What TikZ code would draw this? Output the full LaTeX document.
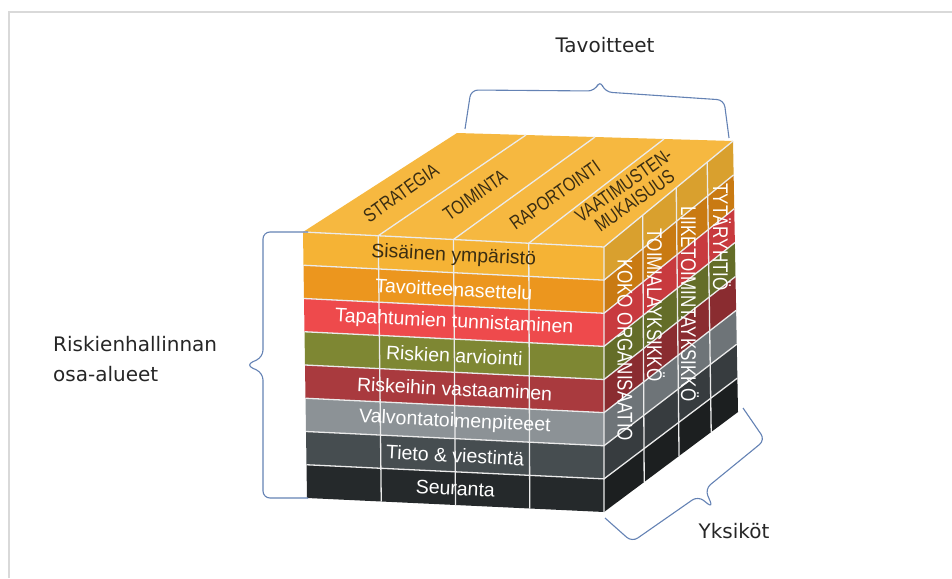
\documentclass[tikz,border=0pt]{standalone}
\usepackage{fontspec,graphicx}
\setmainfont{Liberation Sans}
\newfontfamily\labelfont{DejaVu Sans}
\usetikzlibrary{calc}

\definecolor{rowA}{HTML}{F5B335}
\definecolor{rowB}{HTML}{EC961E}
\definecolor{rowC}{HTML}{EE4A4C}
\definecolor{rowD}{HTML}{7E8733}
\definecolor{rowE}{HTML}{A93A3E}
\definecolor{rowF}{HTML}{8C9296}
\definecolor{rowG}{HTML}{464D50}
\definecolor{rowH}{HTML}{25292B}
\definecolor{sideA}{HTML}{D9A02E}
\definecolor{sideB}{HTML}{C97A12}
\definecolor{sideC}{HTML}{C83A3E}
\definecolor{sideD}{HTML}{646D28}
\definecolor{sideE}{HTML}{8A2C30}
\definecolor{sideF}{HTML}{6E7478}
\definecolor{sideG}{HTML}{373C3F}
\definecolor{sideH}{HTML}{1C1F20}
\definecolor{topface}{HTML}{F6B840}
\definecolor{textdark}{HTML}{3A2D12}
\definecolor{braceblue}{HTML}{6482B4}

\newcommand\tallcaps[1]{\scalebox{1}[1.25]{#1}}

\begin{document}
\begin{tikzpicture}[x=1pt,y=-1pt,
  gridline/.style={draw=white!92!black,line width=1.3pt},
  bracket/.style={draw=braceblue,line width=1.1pt,rounded corners=7pt},
  rowtext/.style={font=\fontsize{19.5}{22}\selectfont,rotate=-2.8,inner sep=0pt},
  sidetext/.style={font=\fontsize{17}{20}\selectfont,white,rotate=-90,inner sep=0pt},
  toptext/.style={font=\fontsize{15.5}{19}\selectfont,textdark,rotate=35,inner sep=0pt,align=center},
  outertext/.style={font=\labelfont\fontsize{20}{30}\selectfont,black!85,inner sep=0pt}]
%\draw[help lines] (0,0) grid[step=50] (952,578);
\useasboundingbox (0,0) rectangle (952,578);
\draw[gray!30,line width=2pt] (9,578) -- (9,12) -- (952,12);

% corners of the cube
\coordinate (F1) at (303,232);
\coordinate (F2) at (604,247);
\coordinate (F3) at (604,512);
\coordinate (F4) at (307,498);
\coordinate (T1) at (457,133);
\coordinate (T2) at (733,141);
\coordinate (R3) at (738,412);

\foreach \i/\fc/\rc in {0/rowA/sideA,1/rowB/sideB,2/rowC/sideC,3/rowD/sideD,
                        4/rowE/sideE,5/rowF/sideF,6/rowG/sideG,7/rowH/sideH}{
  \fill[\fc] ($(F1)!{\i/8}!(F4)$) -- ($(F2)!{\i/8}!(F3)$)
     -- ($(F2)!{(\i+1)/8}!(F3)$) -- ($(F1)!{(\i+1)/8}!(F4)$) -- cycle;
  \fill[\rc] ($(F2)!{\i/8}!(F3)$) -- ($(T2)!{\i/8}!(R3)$)
     -- ($(T2)!{(\i+1)/8}!(R3)$) -- ($(F2)!{(\i+1)/8}!(F3)$) -- cycle;
}
\fill[topface] (F1) -- (F2) -- (T2) -- (T1) -- cycle;

\foreach \k in {1,...,7}
  \draw[gridline] ($(F1)!{\k/8}!(F4)$) -- ($(F2)!{\k/8}!(F3)$) -- ($(T2)!{\k/8}!(R3)$);
\foreach \s in {0.25,0.5,0.75}
  \draw[gridline] ($(F4)!\s!(F3)$) -- ($(F1)!\s!(F2)$) -- ($(T1)!\s!(T2)$);
\foreach \s in {0.3,0.56,0.8}
  \draw[gridline] ($(F3)!\s!(R3)$) -- ($(F2)!\s!(T2)$);
\draw[gridline] (F1) -- (F2) -- (T2) (F2) -- (F3);

\foreach \i/\txt/\tc in {1/Sisäinen ympäristö/textdark,2/Tavoitteenasettelu/white,
    3/Tapahtumien tunnistaminen/white,4/Riskien arviointi/white,
    5/Riskeihin vastaaminen/white,6/Valvontatoimenpiteeet/white,
    7/Tieto \& viestintä/white,8/Seuranta/white}
  \node[rowtext,text=\tc] (row\i) at ($($(F1)!0.5!(F2)$)!{(\i-0.5)/8}!($(F4)!0.5!(F3)$)$) {\txt};

\node[sidetext] (koko) at (625,350) {\tallcaps{KOKO ORGANISAATIO}};
\node[sidetext] (toimiala) at (656,305) {\tallcaps{TOIMIALAYKSIKKÖ}};
\node[sidetext] (liiketoiminta) at (690,304) {\tallcaps{LIIKETOIMINTAYKSIKKÖ}};
\node[sidetext] (tytar) at (722,237) {\tallcaps{TYTÄRYHTIÖ}};

\node[toptext] (strategia) at (401,193) {\tallcaps{STRATEGIA}};
\node[toptext] (toiminta) at (475,195) {\tallcaps{TOIMINTA}};
\node[toptext] (raportointi) at (555,195) {\tallcaps{RAPORTOINTI}};
\node[toptext] (vaatimus) at (629,193) {\tallcaps{VAATIMUSTEN-}\\\tallcaps{MUKAISUUS}};

\node[outertext] (tavoitteet) at (605,45) {Tavoitteet};
\node[outertext,anchor=west,align=left] (osa) at (53,359) {Riskienhallinnan\\osa-alueet};
\node[outertext] (yksikot) at (734,531) {Yksiköt};

% braces
\coordinate (lb1) at (308,232);
\coordinate (lb2) at (308,498);
\draw[bracket] (lb1) -- (263,232) -- (263,357) -- (246,365) -- (263,373) -- (263,498) -- (lb2);
\coordinate (tb1) at (465,129);
\coordinate (tb2) at (729,138);
\draw[bracket] (tb1) -- (471,90) -- (595,91) -- (600,80) -- (605,92) -- (724,100) -- (tb2);
\coordinate (rb1) at (605,518);
\coordinate (rb2) at (743,408);
\draw[bracket] (rb1) -- (632,542) -- (698,496) -- (713,508) -- (705,489) -- (765,440) -- (rb2);
\end{tikzpicture}
\end{document}
